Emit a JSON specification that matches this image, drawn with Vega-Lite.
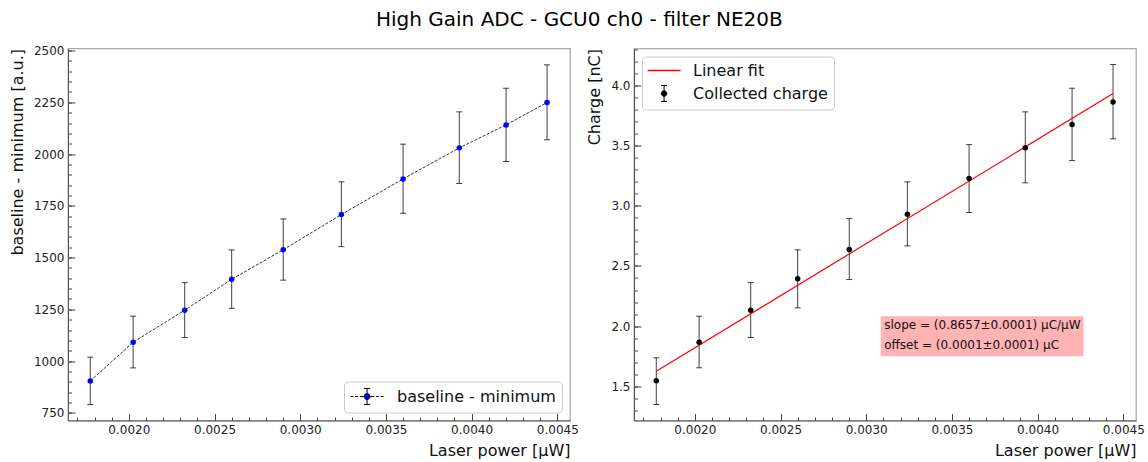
{
  "$schema": "https://vega.github.io/schema/vega-lite/v6.json",
  "background": "white",
  "padding": {"left": 8, "top": 9.5, "right": 5, "bottom": 5},
  "title": {"text": "High Gain ADC - GCU0 ch0 - filter NE20B", "fontSize": 20, "fontWeight": "normal", "font": "DejaVu Sans", "color": "#000000", "anchor": "middle", "offset": 14, "dx": 2.5},
  "config": {
    "font": "DejaVu Sans",
    "view": {"stroke": "#aaaaaa", "strokeWidth": 1.3},
    "axis": {"grid": false, "domainColor": "#555555", "domainWidth": 1, "tickColor": "#444444", "tickWidth": 1, "labelColor": "#222222", "labelFontSize": 12, "labelFont": "DejaVu Sans", "titleFont": "DejaVu Sans", "titleFontSize": 16, "titleFontWeight": "normal", "titleColor": "#111111"},
    "legend": {"labelFontSize": 16, "labelFont": "DejaVu Sans", "labelColor": "#111111", "symbolSize": 289, "strokeColor": "#cccccc", "fillColor": "rgba(255,255,255,0.85)", "cornerRadius": 4, "padding": 6, "labelOffset": 29, "symbolStrokeWidth": 1.2, "offset": 8, "rowPadding": 5}
  },
  "resolve": {"scale": {"color": "independent"}, "legend": {"color": "independent"}},
  "bounds": "flush",
  "spacing": 64,
  "hconcat": [
    {
      "width": 502,
      "height": 372,
      "data": {"values": [
        {"power": 0.001775, "value": 904, "lo": 790, "hi": 1019, "series": "baseline - minimum"},
        {"power": 0.002025, "value": 1091, "lo": 967, "hi": 1217, "series": "baseline - minimum"},
        {"power": 0.002326, "value": 1246, "lo": 1114, "hi": 1379, "series": "baseline - minimum"},
        {"power": 0.0026, "value": 1395, "lo": 1255, "hi": 1537, "series": "baseline - minimum"},
        {"power": 0.002901, "value": 1538, "lo": 1391, "hi": 1687, "series": "baseline - minimum"},
        {"power": 0.00324, "value": 1708, "lo": 1553, "hi": 1866, "series": "baseline - minimum"},
        {"power": 0.0036, "value": 1880, "lo": 1714, "hi": 2048, "series": "baseline - minimum"},
        {"power": 0.003928, "value": 2030, "lo": 1858, "hi": 2204, "series": "baseline - minimum"},
        {"power": 0.004201, "value": 2141, "lo": 1964, "hi": 2318, "series": "baseline - minimum"},
        {"power": 0.00444, "value": 2249, "lo": 2069, "hi": 2431, "series": "baseline - minimum"}
      ]},
      "resolve": {"axis": {"x": "independent", "y": "independent"}},
      "layer": [
        {
          "mark": {"type": "line", "color": "#000000", "strokeWidth": 0.8, "strokeDash": [3, 1.5]},
          "encoding": {
            "x": {"field": "power", "type": "quantitative", "scale": {"domain": [0.001645, 0.004574], "nice": false, "zero": false},
                  "axis": {"orient": "bottom", "values": [0.0017, 0.0018, 0.0019, 0.002, 0.0021, 0.0022, 0.0023, 0.0024, 0.0025, 0.0026, 0.0027, 0.0028, 0.0029, 0.003, 0.0031, 0.0032, 0.0033, 0.0034, 0.0035, 0.0036, 0.0037, 0.0038, 0.0039, 0.004, 0.0041, 0.0042, 0.0043, 0.0044, 0.0045], "labels": false, "domain": false, "tickSize": -3.5, "title": null}},
            "y": {"field": "value", "type": "quantitative", "scale": {"domain": [713, 2510], "nice": false, "zero": false},
                  "axis": {"orient": "left", "values": [750, 800, 850, 900, 950, 1000, 1050, 1100, 1150, 1200, 1250, 1300, 1350, 1400, 1450, 1500, 1550, 1600, 1650, 1700, 1750, 1800, 1850, 1900, 1950, 2000, 2050, 2100, 2150, 2200, 2250, 2300, 2350, 2400, 2450, 2500], "labels": false, "domain": false, "tickSize": -3.5, "title": null}}
          }
        },
        {
          "mark": {"type": "rule", "color": "#000000", "opacity": 0.75, "strokeWidth": 1},
          "encoding": {
            "x": {"field": "power", "type": "quantitative", "axis": null},
            "y": {"field": "lo", "type": "quantitative", "axis": null},
            "y2": {"field": "hi"}
          }
        },
        {
          "mark": {"type": "tick", "orient": "horizontal", "color": "#000000", "opacity": 0.75, "size": 6, "thickness": 1},
          "encoding": {
            "x": {"field": "power", "type": "quantitative", "axis": null},
            "y": {"field": "lo", "type": "quantitative", "axis": null}
          }
        },
        {
          "mark": {"type": "tick", "orient": "horizontal", "color": "#000000", "opacity": 0.75, "size": 6, "thickness": 1},
          "encoding": {
            "x": {"field": "power", "type": "quantitative", "axis": null},
            "y": {"field": "hi", "type": "quantitative", "axis": null}
          }
        },
        {
          "mark": {"type": "point", "filled": true, "size": 30, "opacity": 1},
          "encoding": {
            "x": {"field": "power", "type": "quantitative",
                  "axis": {"orient": "bottom", "values": [0.002, 0.0025, 0.003, 0.0035, 0.004, 0.0045], "format": ".4f", "tickSize": -7, "labelPadding": 11, "title": "Laser power [μW]", "titleAnchor": "end", "titlePadding": 7}},
            "y": {"field": "value", "type": "quantitative",
                  "axis": {"orient": "left", "values": [750, 1000, 1250, 1500, 1750, 2000, 2250, 2500], "format": "d", "tickSize": -7, "labelPadding": 11, "title": "baseline - minimum [a.u.]", "titleAnchor": "end", "titlePadding": 8}},
            "color": {"field": "series", "type": "nominal",
                      "scale": {"domain": ["baseline - minimum"], "range": ["#0000ff"]},
                      "legend": {"title": null, "orient": "bottom-right",
                                 "symbolType": "M-1,0H-0.65M-0.45,0H-0.1M0.1,0H0.55M1.35,0H1.8M2,0H2.35M2.55,0H2.9M0.95,-0.94V-0.34M0.95,0.34V0.94M0.6,-0.94H1.3M0.6,0.94H1.3M1.3,0A0.35,0.35,0,1,1,0.6,0A0.35,0.35,0,1,1,1.3,0Z",
                                 "symbolFillColor": "#0000ff", "symbolStrokeColor": "#000000", "symbolStrokeWidth": 1}}
          }
        }
      ]
    },
    {
      "width": 502,
      "height": 372,
      "data": {"values": [
        {"power": 0.001775, "charge": 1.545, "lo": 1.348, "hi": 1.736, "series": "Collected charge"},
        {"power": 0.002025, "charge": 1.866, "lo": 1.653, "hi": 2.082, "series": "Collected charge"},
        {"power": 0.002326, "charge": 2.132, "lo": 1.905, "hi": 2.362, "series": "Collected charge"},
        {"power": 0.0026, "charge": 2.393, "lo": 2.152, "hi": 2.634, "series": "Collected charge"},
        {"power": 0.002901, "charge": 2.636, "lo": 2.387, "hi": 2.894, "series": "Collected charge"},
        {"power": 0.00324, "charge": 2.93, "lo": 2.667, "hi": 3.199, "series": "Collected charge"},
        {"power": 0.0036, "charge": 3.227, "lo": 2.944, "hi": 3.509, "series": "Collected charge"},
        {"power": 0.003928, "charge": 3.482, "lo": 3.191, "hi": 3.781, "series": "Collected charge"},
        {"power": 0.004201, "charge": 3.676, "lo": 3.376, "hi": 3.978, "series": "Collected charge"},
        {"power": 0.00444, "charge": 3.864, "lo": 3.557, "hi": 4.175, "series": "Collected charge"}
      ]},
      "resolve": {"axis": {"x": "independent", "y": "independent"}},
      "layer": [
        {
          "data": {"values": [{}]},
          "mark": {"type": "rect", "color": "#ffb3b3", "opacity": 1},
          "encoding": {
            "x": {"datum": 0.003085, "type": "quantitative", "scale": {"domain": [0.001645, 0.004574], "nice": false, "zero": false}, "axis": null},
            "x2": {"datum": 0.004268},
            "y": {"datum": 2.082, "type": "quantitative", "scale": {"domain": [1.215, 4.308], "nice": false, "zero": false}, "axis": null},
            "y2": {"datum": 1.749}
          }
        },
        {
          "data": {"values": [{}]},
          "mark": {"type": "text", "align": "left", "baseline": "middle", "fontSize": 12, "font": "DejaVu Sans", "color": "#111111", "lineHeight": 19.3,
                   "text": ["slope = (0.8657±0.0001) μC/μW", "offset = (0.0001±0.0001) μC"]},
          "encoding": {
            "x": {"datum": 0.003105, "type": "quantitative", "axis": null},
            "y": {"datum": 2.007, "type": "quantitative", "axis": null}
          }
        },
        {
          "mark": {"type": "rule", "color": "#000000", "opacity": 0.75, "strokeWidth": 1},
          "encoding": {
            "x": {"field": "power", "type": "quantitative", "axis": null},
            "y": {"field": "lo", "type": "quantitative", "axis": null},
            "y2": {"field": "hi"}
          }
        },
        {
          "mark": {"type": "tick", "orient": "horizontal", "color": "#000000", "opacity": 0.75, "size": 6, "thickness": 1},
          "encoding": {
            "x": {"field": "power", "type": "quantitative", "axis": null},
            "y": {"field": "lo", "type": "quantitative", "axis": null}
          }
        },
        {
          "mark": {"type": "tick", "orient": "horizontal", "color": "#000000", "opacity": 0.75, "size": 6, "thickness": 1},
          "encoding": {
            "x": {"field": "power", "type": "quantitative", "axis": null},
            "y": {"field": "hi", "type": "quantitative", "axis": null}
          }
        },
        {
          "data": {"values": [
            {"power": 0.001775, "charge": 1.625, "series": "Linear fit"},
            {"power": 0.00444, "charge": 3.933, "series": "Linear fit"}
          ]},
          "mark": {"type": "line", "strokeWidth": 1.2},
          "encoding": {
            "x": {"field": "power", "type": "quantitative",
                  "axis": {"orient": "bottom", "values": [0.0017, 0.0018, 0.0019, 0.002, 0.0021, 0.0022, 0.0023, 0.0024, 0.0025, 0.0026, 0.0027, 0.0028, 0.0029, 0.003, 0.0031, 0.0032, 0.0033, 0.0034, 0.0035, 0.0036, 0.0037, 0.0038, 0.0039, 0.004, 0.0041, 0.0042, 0.0043, 0.0044, 0.0045], "labels": false, "domain": false, "tickSize": -3.5, "title": null}},
            "y": {"field": "charge", "type": "quantitative",
                  "axis": {"orient": "left", "values": [1.3, 1.4, 1.5, 1.6, 1.7, 1.8, 1.9, 2.0, 2.1, 2.2, 2.3, 2.4, 2.5, 2.6, 2.7, 2.8, 2.9, 3.0, 3.1, 3.2, 3.3, 3.4, 3.5, 3.6, 3.7, 3.8, 3.9, 4.0, 4.1, 4.2, 4.3], "labels": false, "domain": false, "tickSize": -3.5, "title": null}},
            "color": {"field": "series", "type": "nominal",
                      "scale": {"domain": ["Linear fit", "Collected charge"], "range": ["#ff0000", "#000000"]},
                      "legend": {"title": null, "orient": "top-left",
                                 "symbolType": {"expr": "datum.value === 'Linear fit' ? 'M-1,0H2.9' : 'M0.95,-0.94V-0.3M0.95,0.3V0.94M0.6,-0.94H1.3M0.6,0.94H1.3M1.28,0A0.33,0.33,0,1,1,0.62,0A0.33,0.33,0,1,1,1.28,0Z'"},
                                 "symbolStrokeColor": {"expr": "datum.value === 'Linear fit' ? '#ee3333' : '#000000'"},
                                 "symbolFillColor": {"expr": "datum.value === 'Linear fit' ? 'transparent' : '#000000'"},
                                 "symbolStrokeWidth": {"expr": "datum.value === 'Linear fit' ? 1.6 : 1"}}}
          }
        },
        {
          "mark": {"type": "point", "filled": true, "size": 30, "opacity": 1},
          "encoding": {
            "x": {"field": "power", "type": "quantitative",
                  "axis": {"orient": "bottom", "values": [0.002, 0.0025, 0.003, 0.0035, 0.004, 0.0045], "format": ".4f", "tickSize": -7, "labelPadding": 11, "title": "Laser power [μW]", "titleAnchor": "end", "titlePadding": 7}},
            "y": {"field": "charge", "type": "quantitative",
                  "axis": {"orient": "left", "values": [1.5, 2.0, 2.5, 3.0, 3.5, 4.0], "format": ".1f", "tickSize": -7, "labelPadding": 11, "title": "Charge [nC]", "titleAnchor": "end", "titlePadding": 8}},
            "color": {"field": "series", "type": "nominal",
                      "scale": {"domain": ["Linear fit", "Collected charge"], "range": ["#ff0000", "#000000"]},
                      "legend": {"title": null, "orient": "top-left",
                                 "symbolType": {"expr": "datum.value === 'Linear fit' ? 'M-1,0H2.9' : 'M0.95,-0.94V-0.3M0.95,0.3V0.94M0.6,-0.94H1.3M0.6,0.94H1.3M1.28,0A0.33,0.33,0,1,1,0.62,0A0.33,0.33,0,1,1,1.28,0Z'"},
                                 "symbolStrokeColor": {"expr": "datum.value === 'Linear fit' ? '#ee3333' : '#000000'"},
                                 "symbolFillColor": {"expr": "datum.value === 'Linear fit' ? 'transparent' : '#000000'"},
                                 "symbolStrokeWidth": {"expr": "datum.value === 'Linear fit' ? 1.6 : 1"}}}
          }
        }
      ]
    }
  ]
}
